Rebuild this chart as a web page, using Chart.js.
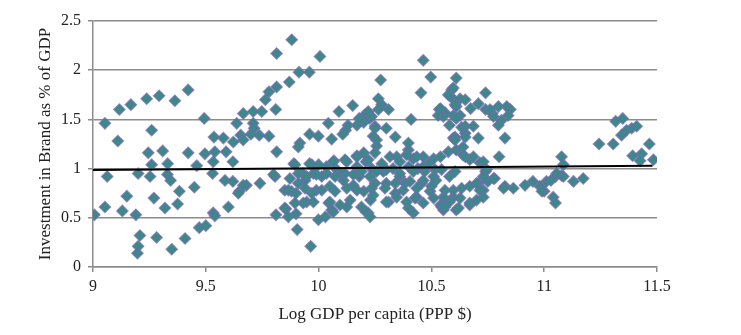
<!DOCTYPE html>
<html>
<head>
<meta charset="utf-8">
<script src="https://cdn.jsdelivr.net/npm/chart.js@4.4.0/dist/chart.umd.min.js"></script>
<style>
  body { margin: 0; background: #fff; }
  #wrap { width: 741px; height: 335px; }
</style>
</head>
<body>
<div id="wrap"><canvas id="chart" width="741" height="335"></canvas></div>
<script>
// log GDP per capita (x) and brand investment as % of GDP (y)
const gdp = [
  9.006, 9.053, 9.063, 9.053, 9.11, 9.117, 9.13, 9.15, 9.168, 9.19,
  9.197, 9.20, 9.208, 9.20, 9.238, 9.245, 9.253, 9.26, 9.26, 9.27,
  9.282, 9.293, 9.309, 9.319, 9.331, 9.33, 9.344, 9.349, 9.363, 9.375,
  9.383, 9.408, 9.422, 9.422, 9.449, 9.46, 9.471, 9.493, 9.50, 9.496,
  9.533, 9.54, 9.53, 9.533, 9.54, 9.536, 9.578, 9.59, 9.585, 9.60,
  9.62, 9.622, 9.62, 9.637, 9.649, 9.655, 9.666, 9.666, 9.68, 9.71,
  9.71, 9.714, 9.70, 9.737, 9.748, 9.74, 9.764, 9.78, 9.78, 9.807,
  9.811, 9.814, 9.814, 9.81, 9.814, 9.666, 9.644, 9.80,
  9.881, 10.006, 9.913, 9.959, 9.87, 10.043, 10.09, 10.151, 10.206, 10.225,
  10.275, 10.2, 10.13, 10.12, 9.96, 9.999, 10.058, 9.917, 10.464, 10.497,
  10.454, 10.61, 10.59, 10.58, 10.60, 10.61, 10.535, 10.56, 10.553, 10.41,
  10.22, 10.265, 10.28, 10.31, 10.17, 10.18, 10.25, 10.265, 10.30, 10.34,
  10.107, 10.242, 10.257, 10.25, 10.398, 10.398, 10.597, 10.575, 10.61, 9.89,
  10.068, 10.125, 10.17, 10.2, 10.21, 10.28, 10.316, 10.346, 10.36, 10.42,
  10.464, 10.51, 10.54, 9.91, 10.235, 10.25, 10.257, 10.54, 10.53, 10.708,
  10.74, 10.77, 10.605, 10.597, 10.627, 10.634, 10.65, 10.605,
  9.85, 9.88, 9.91, 9.94, 9.93, 9.977, 10.014, 9.99, 9.895, 9.947,
  9.855, 9.90, 9.905, 9.965, 9.999, 10.03, 10.045, 10.058, 10.073, 10.11,
  10.095, 10.14, 10.125, 10.154, 10.18, 10.20, 10.22, 10.23, 10.25, 10.287,
  10.30, 10.31, 10.34, 10.36, 10.383, 10.398, 10.42, 10.435, 10.457, 10.47,
  10.494, 10.51, 10.54, 10.56, 10.58, 10.597, 10.61, 10.553, 10.486, 10.44,
  10.40, 10.33, 10.235, 10.17, 10.08, 10.035, 9.97, 9.895, 9.96, 10.0,
  10.065, 10.117, 10.17, 10.22, 9.873, 9.91, 9.947, 9.99, 10.035, 10.073,
  10.117, 10.154, 10.19, 10.228, 9.866, 9.90, 9.94, 9.97, 10.014, 10.05,
  10.125, 10.17, 10.235, 9.85, 9.932, 9.977, 10.05, 10.095, 10.19, 10.21,
  9.866, 10.065,
  10.39, 10.435, 10.64, 10.67, 10.715, 10.80, 10.257, 10.30, 10.36, 10.42,
  10.464, 10.516, 10.545, 10.605, 10.74, 10.78, 10.826, 10.294, 10.34, 10.375,
  10.405, 10.435, 10.464, 10.50, 10.52, 10.597, 10.634, 10.67, 10.708, 10.73,
  10.75, 10.242, 10.30, 10.346, 10.39, 10.427, 10.464, 10.51, 10.545, 10.58,
  10.62, 10.627, 10.67, 10.70, 10.228,
  10.597, 10.575, 10.627, 10.65, 10.74, 10.674, 10.76, 10.797, 10.834, 10.85,
  10.84, 10.775, 10.81, 10.797, 10.61, 10.65, 10.686, 10.708, 10.605, 10.65,
  10.826, 10.58, 10.64, 10.65, 10.686, 10.73, 10.775, 10.745, 10.73, 10.70,
  10.715, 10.73, 10.67, 10.56, 10.553, 10.82, 10.863, 10.915, 10.95, 10.98,
  11.01, 11.05, 11.04, 11.05, 11.077, 11.085, 11.077, 11.13, 11.173, 11.0,
  10.99, 11.03, 11.055, 11.085,
  11.243, 11.306, 11.317, 11.348, 11.343, 11.365, 11.388, 11.41, 11.466, 11.392,
  11.432, 11.425, 11.484
];
const brand = [
  0.53, 1.46, 0.92, 0.61, 1.28, 1.60, 0.57, 0.72, 1.65, 0.53,
  0.14, 0.21, 0.32, 0.95, 1.71, 1.16, 0.92, 1.39, 1.04, 0.70,
  0.30, 1.74, 1.18, 0.60, 1.05, 0.94, 0.88, 0.18, 1.69, 0.64,
  0.77, 0.29, 1.16, 1.80, 0.81, 1.03, 0.40, 1.51, 0.42, 1.15,
  0.55, 0.52, 0.95, 1.07, 1.17, 1.32, 1.31, 1.17, 0.88, 0.61,
  1.07, 1.27, 0.87, 1.46, 0.77, 1.34, 1.56, 1.29, 0.83, 1.58,
  1.46, 1.41, 1.35, 1.34, 1.58, 0.85, 1.70, 1.78, 1.33, 0.92,
  0.53, 2.17, 1.83, 1.60, 1.17, 0.83, 0.75, 0.94,
  2.31, 2.14, 1.98, 1.98, 1.88, 1.46, 1.58, 1.64, 1.55, 1.51,
  1.90, 1.47, 1.44, 1.39, 1.35, 1.33, 1.30, 1.26, 2.10, 1.93,
  1.77, 1.92, 1.80, 1.74, 1.70, 1.63, 1.60, 1.57, 1.53, 1.50,
  1.58, 1.71, 1.65, 1.60, 1.44, 1.51, 1.43, 1.60, 1.41, 1.32,
  1.35, 1.33, 1.23, 1.16, 1.26, 1.19, 1.31, 1.17, 1.19, 1.05,
  1.08, 1.07, 1.13, 1.16, 1.07, 1.05, 1.12, 1.12, 1.07, 1.10,
  1.12, 1.10, 1.12, 1.22, 1.53, 1.41, 1.29, 1.61, 1.54, 1.66,
  1.60, 1.56, 1.65, 1.54, 1.54, 1.42, 1.36, 1.32,
  0.78, 0.77, 0.85, 0.88, 0.95, 0.95, 0.92, 0.78, 0.65, 0.66,
  0.59, 0.54, 0.38, 0.21, 0.48, 0.51, 0.65, 0.58, 0.77, 0.88,
  0.95, 0.68, 0.61, 0.83, 0.92, 0.77, 0.55, 0.68, 0.85, 0.97,
  0.85, 0.66, 0.75, 0.92, 0.85, 0.60, 0.55, 0.71, 0.85, 0.97,
  0.77, 0.92, 0.63, 0.78, 0.92, 0.71, 0.58, 0.58, 1.05, 1.00,
  1.02, 1.00, 1.00, 1.02, 0.99, 1.02, 1.04, 1.04, 1.05, 1.04,
  1.07, 1.09, 1.12, 1.09, 0.90, 0.95, 0.92, 0.94, 0.95, 0.92,
  0.95, 0.94, 0.97, 0.92, 0.78, 0.75, 0.80, 0.75, 0.78, 0.82,
  0.80, 0.78, 0.80, 0.60, 0.65, 0.66, 0.66, 0.63, 0.61, 0.56,
  0.51, 0.56,
  1.14, 1.12, 1.14, 1.09, 1.06, 1.12, 0.97, 0.99, 0.95, 0.97,
  1.02, 0.99, 0.99, 0.97, 0.97, 0.90, 0.82, 0.80, 0.85, 0.78,
  0.87, 0.80, 0.88, 0.82, 0.88, 0.78, 0.80, 0.82, 0.85, 0.78,
  0.87, 0.73, 0.66, 0.71, 0.66, 0.70, 0.65, 0.70, 0.61, 0.66,
  0.60, 0.70, 0.63, 0.68, 0.51,
  1.82, 1.75, 1.71, 1.70, 1.77, 1.61, 1.60, 1.63, 1.63, 1.60,
  1.54, 1.53, 1.49, 1.44, 1.51, 1.43, 1.43, 1.31, 1.29, 1.32,
  1.31, 1.44, 1.22, 1.12, 1.12, 1.07, 0.90, 0.99, 0.92, 0.85,
  0.78, 0.71, 0.65, 0.61, 0.71, 0.80, 0.80, 0.83, 0.87, 0.82,
  0.87, 0.92, 0.71, 0.65, 1.12, 1.04, 0.93, 0.87, 0.90, 0.77,
  0.77, 0.88, 0.95, 0.92,
  1.25, 1.25, 1.48, 1.51, 1.34, 1.39, 1.41, 1.43, 1.25, 1.13,
  1.15, 1.08, 1.09
];

// linear trend line end points as drawn
const trendX = [9.0, 11.48];
const trendY = [0.985, 1.03];

const xTicks = ['9', '9.5', '10', '10.5', '11', '11.5'];
const yTicks = ['0', '0.5', '1', '1.5', '2', '2.5'];

const points = gdp.map((x, i) => ({ x: x, y: brand[i] }));
const trend = trendX.map((x, i) => ({ x: x, y: trendY[i] }));

const serif = 'Liberation Serif';

new Chart(document.getElementById('chart'), {
  type: 'scatter',
  data: {
    datasets: [
      {
        type: 'line',
        data: trend,
        borderColor: '#000',
        borderWidth: 2,
        pointRadius: 0,
        fill: false,
        order: 0
      },
      {
        data: points,
        pointStyle: 'rectRot',
        pointRadius: 5.5,
        backgroundColor: 'rgb(58,138,136)',
        borderColor: 'rgba(108,108,172,0.75)',
        borderWidth: 1.5,
        order: 1
      }
    ]
  },
  options: {
    responsive: false,
    animation: false,
    layout: { padding: { left: 0, top: 21, right: 84, bottom: 0 } },
    plugins: { legend: { display: false }, tooltip: { enabled: false } },
    scales: {
      x: {
        type: 'linear',
        min: 9, max: 11.5,
        afterFit: s => { s.height = 68; },
        ticks: {
          stepSize: 0.5,
          padding: 5,
          color: '#222',
          font: { family: serif, size: 16 },
          callback: (v, i) => xTicks[i]
        },
        grid: { drawOnChartArea: false, drawTicks: true, tickLength: 5, color: '#8c8c8c', lineWidth: 1.5 },
        border: { color: '#8c8c8c', width: 1.5 },
        title: {
          display: true,
          text: 'Log GDP per capita (PPP $)',
          color: '#222',
          font: { family: serif, size: 17 },
          padding: { top: 0, bottom: 10 }
        }
      },
      y: {
        min: 0, max: 2.5,
        afterFit: s => { s.width = 93; },
        ticks: {
          stepSize: 0.5,
          padding: 7,
          color: '#222',
          font: { family: serif, size: 16 },
          callback: (v, i) => yTicks[i]
        },
        grid: { color: '#8c8c8c', lineWidth: 1.5, drawTicks: true, tickLength: 5 },
        border: { color: '#8c8c8c', width: 1.5 },
        title: {
          display: true,
          text: 'Investment in Brand as % of GDP',
          color: '#222',
          font: { family: serif, size: 17 },
          padding: { top: 35, bottom: 0 }
        }
      }
    }
  }
});
</script>
</body>
</html>
